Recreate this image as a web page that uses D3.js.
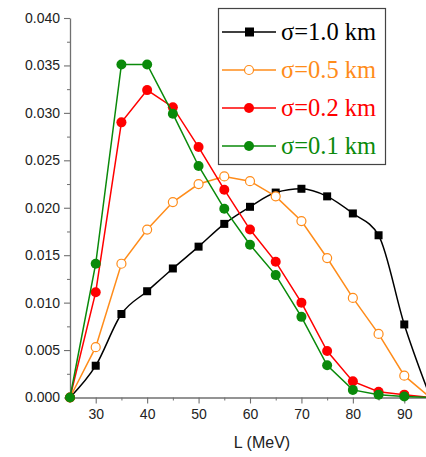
<!DOCTYPE html>
<html>
<head>
<meta charset="utf-8">
<script src="https://cdn.jsdelivr.net/npm/d3@7"></script>
<style>
  body { margin: 0; background: #fff; }
</style>
</head>
<body>
<div id="chart"></div>
<script>
// L values (MeV)
var energies = [25, 30, 35, 40, 45, 50, 55, 60, 65, 70, 75, 80, 85, 90, 95];

var sigma10 = [0, 0.00335, 0.0088, 0.0112, 0.0136, 0.0159, 0.0183, 0.0201, 0.0216, 0.0220, 0.0212, 0.0194, 0.0171, 0.0077, 0.0001];
var sigma05 = [0, 0.0053, 0.0141, 0.0177, 0.0206, 0.0225, 0.0233, 0.0228, 0.0212, 0.0186, 0.0147, 0.0105, 0.0067, 0.0023, 0];
var sigma02 = [0, 0.0111, 0.0290, 0.0324, 0.0306, 0.0264, 0.0219, 0.0177, 0.0143, 0.0100, 0.0049, 0.0017, 0.0006, 0.0003, 0];
var sigma01 = [0, 0.0141, 0.0351, 0.0351, 0.0299, 0.0244, 0.0199, 0.0161, 0.0129, 0.0085, 0.0034, 0.0008, 0.0003, 0.0001, 0];

var seriesNames = ["\u03c3=1.0 km", "\u03c3=0.5 km", "\u03c3=0.2 km", "\u03c3=0.1 km"];
var xTicks = [30, 40, 50, 60, 70, 80, 90];
var yTicks = [0, 0.005, 0.01, 0.015, 0.02, 0.025, 0.03, 0.035, 0.04];

var width = 426, height = 457;

var series = [
    {name: seriesNames[0], values: sigma10, color: "#000000", marker: "square", smooth: true},
    {name: seriesNames[1], values: sigma05, color: "#ff8c1a", marker: "open", smooth: false},
    {name: seriesNames[2], values: sigma02, color: "#ff0000", marker: "dot", smooth: false},
    {name: seriesNames[3], values: sigma01, color: "#0a8a0a", marker: "dot", smooth: false}
];

var svg = d3.select("#chart").append("svg")
    .attr("width", width)
    .attr("height", height);

var x = d3.scaleLinear().domain([25, 95]).range([70, 430]);
var y = d3.scaleLinear().domain([0, 0.04]).range([397.5, 18]);

var axisColor = "#707070";

// minor ticks
var yMinor = d3.range(0.0025, 0.04, 0.005);
var xMinor = [35, 45, 55, 65, 75, 85];

svg.append("g")
    .attr("transform", "translate(70,0)")
    .call(d3.axisLeft(y).tickValues(yMinor).tickSize(3).tickFormat(""))
    .call(g => g.select(".domain").remove())
    .call(g => g.selectAll("line").attr("stroke", axisColor));

svg.append("g")
    .attr("transform", "translate(0,397.5)")
    .call(d3.axisBottom(x).tickValues(xMinor).tickSize(3).tickFormat(""))
    .call(g => g.select(".domain").remove())
    .call(g => g.selectAll("line").attr("stroke", axisColor));

var yAxis = svg.append("g")
    .attr("transform", "translate(70,0)")
    .call(d3.axisLeft(y).tickValues(yTicks).tickSize(6).tickSizeOuter(0).tickPadding(4).tickFormat(d3.format(".3f")));

var xAxis = svg.append("g")
    .attr("transform", "translate(0,397.5)")
    .call(d3.axisBottom(x).tickValues(xTicks).tickSize(6).tickSizeOuter(0).tickPadding(6));

[xAxis, yAxis].forEach(function(g) {
    g.select(".domain").attr("stroke", axisColor).attr("stroke-width", 1.3);
    g.selectAll("line").attr("stroke", axisColor).attr("stroke-width", 1.1);
    g.selectAll("text")
        .style("font", "14px 'Liberation Sans', Arial, sans-serif")
        .attr("fill", "#222");
});

svg.append("text")
    .attr("x", 262)
    .attr("y", 448)
    .attr("text-anchor", "middle")
    .style("font", "16px 'Liberation Sans', Arial, sans-serif")
    .attr("fill", "#222")
    .text("L (MeV)");

// lines and markers
series.forEach(function(s) {
    var pts = energies.map(function(e, i) { return {x: e, y: s.values[i]}; });
    var line = d3.line()
        .x(d => x(d.x))
        .y(d => y(d.y))
        .curve(s.smooth ? d3.curveMonotoneX : d3.curveLinear);

    svg.append("path")
        .datum(pts)
        .attr("fill", "none")
        .attr("stroke", s.color)
        .attr("stroke-width", 1.5)
        .attr("d", line);

    var mpts = pts.filter(d => d.x < 95 && !(s.marker == "square" && d.x == 25));
    var g = svg.append("g");
    if (s.marker == "square") {
        g.selectAll("rect").data(mpts).join("rect")
            .attr("x", d => x(d.x) - 4)
            .attr("y", d => y(d.y) - 4)
            .attr("width", 8)
            .attr("height", 8)
            .attr("fill", s.color);
    } else if (s.marker == "open") {
        g.selectAll("circle").data(mpts).join("circle")
            .attr("cx", d => x(d.x))
            .attr("cy", d => y(d.y))
            .attr("r", 4.5)
            .attr("fill", "#fff")
            .attr("stroke", s.color)
            .attr("stroke-width", 1.2);
    } else {
        g.selectAll("circle").data(mpts).join("circle")
            .attr("cx", d => x(d.x))
            .attr("cy", d => y(d.y))
            .attr("r", 5)
            .attr("fill", s.color);
    }
});

// legend
var legend = svg.append("g");
legend.append("rect")
    .attr("x", 218.5)
    .attr("y", 8.5)
    .attr("width", 167)
    .attr("height", 156)
    .attr("fill", "#fff")
    .attr("stroke", "#444")
    .attr("stroke-width", 1.2);

series.forEach(function(s, i) {
    var cy = 32 + i * 38;
    legend.append("line")
        .attr("x1", 222).attr("x2", 276)
        .attr("y1", cy).attr("y2", cy)
        .attr("stroke", s.color)
        .attr("stroke-width", 1.5);
    if (s.marker == "square") {
        legend.append("rect")
            .attr("x", 245).attr("y", cy - 4.5)
            .attr("width", 9).attr("height", 9)
            .attr("fill", s.color);
    } else if (s.marker == "open") {
        legend.append("circle")
            .attr("cx", 249).attr("cy", cy).attr("r", 4.5)
            .attr("fill", "#fff").attr("stroke", s.color).attr("stroke-width", 1.2);
    } else {
        legend.append("circle")
            .attr("cx", 249).attr("cy", cy).attr("r", 5)
            .attr("fill", s.color);
    }
    legend.append("text")
        .attr("x", 281)
        .attr("y", cy + 8)
        .style("font", "24.5px 'Liberation Serif', 'Times New Roman', serif")
        .attr("fill", s.color)
        .text(s.name);
});
</script>
</body>
</html>
